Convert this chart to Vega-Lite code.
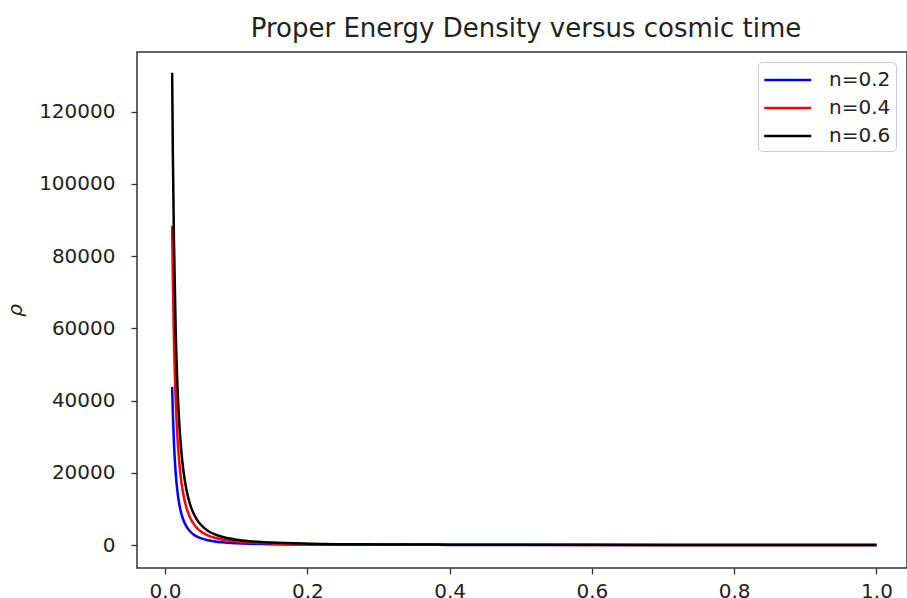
{
  "$schema": "https://vega.github.io/schema/vega-lite/v6.json",
  "width": 770,
  "height": 516,
  "autosize": {"type": "none"},
  "padding": {"left": 137, "top": 52, "right": 0, "bottom": 30},
  "background": "white",
  "title": {"text": "Proper Energy Density versus cosmic time", "fontSize": 26, "font": "DejaVu Sans", "fontWeight": "normal", "color": "#222", "baseline": "alphabetic", "offset": 13, "dy": 24, "dx": 4, "anchor": "middle"},
  "config": {
    "font": "DejaVu Sans",
    "view": {"stroke": "#333", "strokeWidth": 1.5},
    "axis": {"grid": false, "domain": false, "tickColor": "#333", "tickSize": 6, "tickWidth": 1.3, "labelFontSize": 20, "labelColor": "#222", "labelFont": "DejaVu Sans"}
  },
  "data": {"values": [
    {"t": 0.01, "rho": 43800, "n": "n=0.2"},
    {"t": 0.011, "rho": 36372, "n": "n=0.2"},
    {"t": 0.0125, "rho": 28347, "n": "n=0.2"},
    {"t": 0.015, "rho": 19863, "n": "n=0.2"},
    {"t": 0.0175, "rho": 14708, "n": "n=0.2"},
    {"t": 0.02, "rho": 11335, "n": "n=0.2"},
    {"t": 0.0225, "rho": 9010, "n": "n=0.2"},
    {"t": 0.025, "rho": 7337, "n": "n=0.2"},
    {"t": 0.03, "rho": 5142, "n": "n=0.2"},
    {"t": 0.035, "rho": 3806, "n": "n=0.2"},
    {"t": 0.04, "rho": 2935, "n": "n=0.2"},
    {"t": 0.045, "rho": 2330, "n": "n=0.2"},
    {"t": 0.05, "rho": 1899, "n": "n=0.2"},
    {"t": 0.06, "rho": 1331, "n": "n=0.2"},
    {"t": 0.07, "rho": 985, "n": "n=0.2"},
    {"t": 0.08, "rho": 760, "n": "n=0.2"},
    {"t": 0.1, "rho": 491, "n": "n=0.2"},
    {"t": 0.12, "rho": 344, "n": "n=0.2"},
    {"t": 0.15, "rho": 223, "n": "n=0.2"},
    {"t": 0.2, "rho": 127, "n": "n=0.2"},
    {"t": 0.3, "rho": 58, "n": "n=0.2"},
    {"t": 0.4, "rho": 33, "n": "n=0.2"},
    {"t": 0.5, "rho": 21, "n": "n=0.2"},
    {"t": 0.6, "rho": 15, "n": "n=0.2"},
    {"t": 0.7, "rho": 11, "n": "n=0.2"},
    {"t": 0.8, "rho": 8.5, "n": "n=0.2"},
    {"t": 0.9, "rho": 6.8, "n": "n=0.2"},
    {"t": 1.0, "rho": 5.5, "n": "n=0.2"},
    {"t": 0.01, "rho": 88400, "n": "n=0.4"},
    {"t": 0.011, "rho": 73407, "n": "n=0.4"},
    {"t": 0.0125, "rho": 57212, "n": "n=0.4"},
    {"t": 0.015, "rho": 40089, "n": "n=0.4"},
    {"t": 0.0175, "rho": 29685, "n": "n=0.4"},
    {"t": 0.02, "rho": 22878, "n": "n=0.4"},
    {"t": 0.0225, "rho": 18184, "n": "n=0.4"},
    {"t": 0.025, "rho": 14807, "n": "n=0.4"},
    {"t": 0.03, "rho": 10378, "n": "n=0.4"},
    {"t": 0.035, "rho": 7682, "n": "n=0.4"},
    {"t": 0.04, "rho": 5923, "n": "n=0.4"},
    {"t": 0.045, "rho": 4703, "n": "n=0.4"},
    {"t": 0.05, "rho": 3832, "n": "n=0.4"},
    {"t": 0.06, "rho": 2686, "n": "n=0.4"},
    {"t": 0.07, "rho": 1988, "n": "n=0.4"},
    {"t": 0.08, "rho": 1533, "n": "n=0.4"},
    {"t": 0.1, "rho": 992, "n": "n=0.4"},
    {"t": 0.12, "rho": 695, "n": "n=0.4"},
    {"t": 0.15, "rho": 450, "n": "n=0.4"},
    {"t": 0.2, "rho": 256, "n": "n=0.4"},
    {"t": 0.3, "rho": 116, "n": "n=0.4"},
    {"t": 0.4, "rho": 66, "n": "n=0.4"},
    {"t": 0.5, "rho": 43, "n": "n=0.4"},
    {"t": 0.6, "rho": 30, "n": "n=0.4"},
    {"t": 0.7, "rho": 22, "n": "n=0.4"},
    {"t": 0.8, "rho": 17, "n": "n=0.4"},
    {"t": 0.9, "rho": 14, "n": "n=0.4"},
    {"t": 1.0, "rho": 11, "n": "n=0.4"},
    {"t": 0.01, "rho": 130800, "n": "n=0.6"},
    {"t": 0.011, "rho": 108616, "n": "n=0.6"},
    {"t": 0.0125, "rho": 84654, "n": "n=0.6"},
    {"t": 0.015, "rho": 59318, "n": "n=0.6"},
    {"t": 0.0175, "rho": 43923, "n": "n=0.6"},
    {"t": 0.02, "rho": 33851, "n": "n=0.6"},
    {"t": 0.0225, "rho": 26906, "n": "n=0.6"},
    {"t": 0.025, "rho": 21909, "n": "n=0.6"},
    {"t": 0.03, "rho": 15356, "n": "n=0.6"},
    {"t": 0.035, "rho": 11367, "n": "n=0.6"},
    {"t": 0.04, "rho": 8764, "n": "n=0.6"},
    {"t": 0.045, "rho": 6959, "n": "n=0.6"},
    {"t": 0.05, "rho": 5670, "n": "n=0.6"},
    {"t": 0.06, "rho": 3974, "n": "n=0.6"},
    {"t": 0.07, "rho": 2942, "n": "n=0.6"},
    {"t": 0.08, "rho": 2268, "n": "n=0.6"},
    {"t": 0.1, "rho": 1468, "n": "n=0.6"},
    {"t": 0.12, "rho": 1028, "n": "n=0.6"},
    {"t": 0.15, "rho": 666, "n": "n=0.6"},
    {"t": 0.2, "rho": 379, "n": "n=0.6"},
    {"t": 0.3, "rho": 172, "n": "n=0.6"},
    {"t": 0.4, "rho": 98, "n": "n=0.6"},
    {"t": 0.5, "rho": 64, "n": "n=0.6"},
    {"t": 0.6, "rho": 45, "n": "n=0.6"},
    {"t": 0.7, "rho": 33, "n": "n=0.6"},
    {"t": 0.8, "rho": 25, "n": "n=0.6"},
    {"t": 0.9, "rho": 20, "n": "n=0.6"},
    {"t": 1.0, "rho": 16, "n": "n=0.6"}
  ]},
  "mark": {"type": "line", "interpolate": "monotone", "strokeWidth": 2.5},
  "encoding": {
    "x": {"field": "t", "type": "quantitative", "scale": {"domain": [-0.0394, 1.0429], "nice": false, "zero": false},
      "axis": {"values": [0, 0.2, 0.4, 0.6, 0.8, 1.0], "format": ".1f", "title": null, "labelPadding": 7}},
    "y": {"field": "rho", "type": "quantitative", "scale": {"domain": [-6371, 136565], "nice": false, "zero": false},
      "axis": {"values": [0, 20000, 40000, 60000, 80000, 100000, 120000], "format": "d", "labelPadding": 16,
        "title": "ρ", "titleFontSize": 20, "titleFontStyle": "italic", "titleFontWeight": "normal", "titleColor": "#222", "titleAngle": -90, "titleBaseline": "alphabetic", "titleAlign": "center", "titleX": -116, "titleY": 258}},
    "color": {"field": "n", "type": "nominal", "scale": {"domain": ["n=0.2", "n=0.4", "n=0.6"], "range": ["#0000ff", "#ff0000", "#000000"]},
      "legend": {"title": null, "orient": "none", "legendX": 621, "legendY": 10, "symbolType": "M-1,0H3", "symbolSize": 552, "symbolStrokeWidth": 2.5, "labelFontSize": 20, "labelColor": "#222", "labelOffset": 40, "rowPadding": 5, "padding": 5, "fillColor": "white", "strokeColor": "#ccc", "cornerRadius": 4}}
  }
}
